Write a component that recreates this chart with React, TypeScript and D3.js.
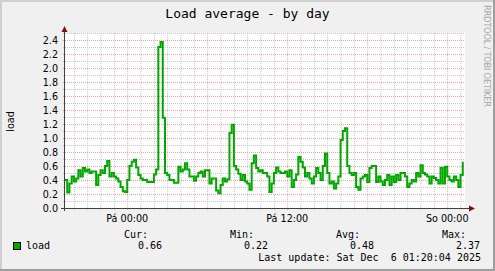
import React from 'react';
import * as d3 from 'd3';

const title = 'Load average - by day';
const seriesName = 'load';
const yAxisLabel = 'load';
const watermark = 'RRDTOOL / TOBI OETIKER';
// 10-minute samples starting Thu 2025-12-04 19:20
const loadValues = [
  0.40, 0.22, 0.35, 0.45, 0.38, 0.42, 0.54, 0.45, 0.57, 0.52,
  0.55, 0.50, 0.52, 0.52, 0.33, 0.47, 0.54, 0.50, 0.60, 0.67,
  0.45, 0.50, 0.45, 0.42, 0.38, 0.30, 0.24, 0.23, 0.40, 0.60,
  0.66, 0.69, 0.58, 0.47, 0.42, 0.40, 0.40, 0.37, 0.37, 0.37,
  0.48, 0.55, 2.30, 2.37, 1.29, 0.50, 0.47, 0.40, 0.40, 0.36,
  0.36, 0.59, 0.52, 0.55, 0.64, 0.55, 0.45, 0.45, 0.39, 0.45,
  0.50, 0.52, 0.45, 0.54, 0.54, 0.35, 0.42, 0.42, 0.25, 0.21,
  0.33, 0.42, 0.38, 0.41, 1.07, 1.19, 0.60, 0.55, 0.49, 0.40,
  0.47, 0.38, 0.35, 0.26, 0.64, 0.75, 0.57, 0.52, 0.54, 0.50,
  0.50, 0.45, 0.23, 0.35, 0.50, 0.58, 0.52, 0.50, 0.50, 0.52,
  0.45, 0.54, 0.30, 0.40, 0.48, 0.73, 0.66, 0.58, 0.45, 0.50,
  0.42, 0.35, 0.45, 0.57, 0.50, 0.40, 0.60, 0.78, 0.50, 0.35,
  0.38, 0.28, 0.35, 0.45, 0.97, 1.10, 1.14, 0.60, 0.50, 0.47,
  0.50, 0.30, 0.26, 0.42, 0.45, 0.47, 0.37, 0.57, 0.60, 0.60,
  0.37, 0.45, 0.38, 0.33, 0.40, 0.47, 0.33, 0.45, 0.37, 0.47,
  0.40, 0.50, 0.50, 0.45, 0.30, 0.35, 0.40, 0.38, 0.50, 0.45,
  0.61, 0.50, 0.48, 0.45, 0.35, 0.45, 0.43, 0.40, 0.35, 0.57,
  0.35, 0.59, 0.45, 0.40, 0.38, 0.45, 0.40, 0.30, 0.47, 0.66,
];
const yTickValues = [0, 0.2, 0.4, 0.6, 0.8, 1.0, 1.2, 1.4, 1.6, 1.8, 2.0, 2.2, 2.4];
const xTickLabels = ['Pá 00:00', 'Pá 12:00', 'So 00:00'];
const legendHeaders = ['Cur:', 'Min:', 'Avg:', 'Max:'];
const legendValues = ['0.66', '0.22', '0.48', '2.37'];
const lastUpdate = 'Last update: Sat Dec  6 01:20:04 2025';

const W = 495;
const H = 271;
const startTime = Date.UTC(2025, 11, 4, 19, 20, 0);
const stepMs = 10 * 60 * 1000;
const endTime = startTime + 30 * 3600 * 1000;

const PL = 65, PR = 465, PT = 33, PB = 208;

export default function App() {
  const x = d3.scaleUtc().domain([new Date(startTime), new Date(endTime)]).range([PL, PR]);
  const y = d3.scaleLinear().domain([0, 2.5]).range([PB, PT]);

  const data = loadValues.map((v, i) => ({ t: new Date(startTime + i * stepMs), v }));
  const line = d3.line<{ t: Date; v: number }>()
    .x(d => x(d.t))
    .y(d => y(d.v))
    .curve(d3.curveStepAfter);

  const hours = d3.utcHour.every(1)!.range(new Date(startTime), new Date(endTime));
  const majorHours = hours.filter(h => h.getUTCHours() % 6 === 0);
  const labelHours = hours.filter(h => h.getUTCHours() % 12 === 0);
  const minorY = d3.range(1, 26).map(i => i / 10).filter(v => Math.round(v * 10) % 2 === 1);
  const majorY = yTickValues.filter(v => v > 0);

  const mono = 'DejaVu Sans Mono';
  const sans = 'DejaVu Sans';
  const legendHeaderRight = [148, 254, 360, 466];
  const legendValueRight = [162, 268, 374, 480];

  return (
    <svg width={W} height={H} style={{ position: 'absolute', left: 0, top: 0 }}>
      <rect x={0} y={0} width={W} height={H} fill="#F0F0F0" />
      <rect x={0} y={0} width={W} height={2} fill="#CFCFCF" />
      <rect x={0} y={0} width={2} height={H} fill="#CFCFCF" />
      <rect x={0} y={H - 2} width={W} height={2} fill="#9E9E9E" />
      <rect x={W - 2} y={0} width={2} height={H} fill="#9E9E9E" />

      <text x={W / 2} y={18} textAnchor="middle" fontFamily={mono} fontSize={13} fill="#000">{title}</text>
      <text transform={`translate(${W - 11},5) rotate(90)`} fontFamily={sans} fontSize={8.4} fill="#A8A8A8" textLength={102} lengthAdjust="spacing">{watermark}</text>

      <rect x={PL} y={PT} width={PR - PL} height={PB - PT} fill="#FFFFFF" />

      {hours.filter(h => h.getUTCHours() % 6 !== 0).map((h, i) => (
        <line key={'vm' + i} x1={x(h) + 0.5} x2={x(h) + 0.5} y1={PT} y2={PB + 3} stroke="#C8C8C8" strokeDasharray="1,1" />
      ))}
      {minorY.map((v, i) => (
        <line key={'hm' + i} x1={PL - 2} x2={PR} y1={Math.round(y(v)) + 0.5} y2={Math.round(y(v)) + 0.5} stroke="#C8C8C8" strokeDasharray="1,1" />
      ))}
      {majorHours.map((h, i) => (
        <line key={'vM' + i} x1={x(h) + 0.5} x2={x(h) + 0.5} y1={PT} y2={PB + 3} stroke="#F4A0A0" strokeDasharray="1,1" />
      ))}
      {majorY.map((v, i) => (
        <line key={'hM' + i} x1={PL - 2} x2={PR} y1={Math.round(y(v)) + 0.5} y2={Math.round(y(v)) + 0.5} stroke="#F4A0A0" strokeDasharray="1,1" />
      ))}

      {yTickValues.map((v, i) => (
        <text key={'yl' + i} x={58} y={Math.round(y(v)) + 4} textAnchor="end" fontFamily={sans} fontSize={9.6} fill="#000">{v.toFixed(1)}</text>
      ))}
      {labelHours.map((h, i) => (
        <text key={'xl' + i} x={x(h)} y={222} textAnchor="middle" fontFamily={sans} fontSize={9.6} fill="#000">{xTickLabels[i]}</text>
      ))}
      <text transform={`translate(14,${(PT + PB) / 2 + 1}) rotate(-90)`} textAnchor="middle" fontFamily={sans} fontSize={9.6} fill="#000">{yAxisLabel}</text>

      <path d={line(data) ?? ''} fill="none" stroke="#00A800" strokeWidth={2} />

      <line x1={64.5} x2={64.5} y1={PB + 3} y2={30} stroke="#404040" strokeWidth={1} />
      <path d="M61.5,32 L64.5,26 L67.5,32 Z" fill="#7F1010" />
      <line x1={61} x2={470} y1={PB + 0.5} y2={PB + 0.5} stroke="#404040" strokeWidth={1} />
      <path d="M469,205.5 L475,208.5 L469,211.5 Z" fill="#7F1010" />

      {legendHeaders.map((t, i) => (
        <text key={'lh' + i} x={legendHeaderRight[i]} y={238} textAnchor="end" fontFamily={mono} fontSize={10} fill="#000">{t}</text>
      ))}
      <rect x={13.5} y={242.5} width={7} height={7} fill="#00A800" stroke="#000" strokeWidth={1} />
      <text x={26} y={249} fontFamily={mono} fontSize={10} fill="#000">{seriesName}</text>
      {legendValues.map((t, i) => (
        <text key={'lv' + i} x={legendValueRight[i]} y={249} textAnchor="end" fontFamily={mono} fontSize={10} fill="#000">{t}</text>
      ))}
      <text x={481} y={261} textAnchor="end" fontFamily={mono} fontSize={10} fill="#000" style={{ whiteSpace: 'pre' }}>{lastUpdate}</text>
    </svg>
  );
}
